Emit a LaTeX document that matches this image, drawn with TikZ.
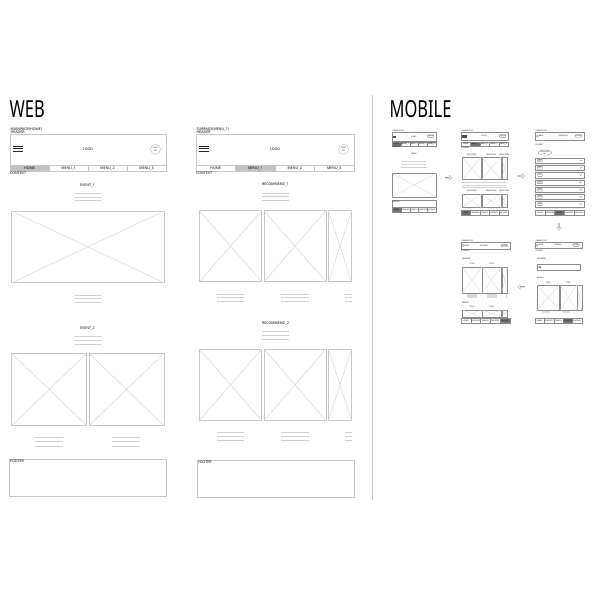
\documentclass[tikz,border=0pt]{standalone}
\usepackage{fontspec}
\setmainfont{Noto Sans}
\usetikzlibrary{shapes.arrows}
\definecolor{framegray}{gray}{0.78}
\definecolor{crossgray}{gray}{0.83}
\definecolor{bargray}{gray}{0.82}
\definecolor{selgray}{gray}{0.76}
\definecolor{mselgray}{gray}{0.45}
\tikzset{
  frame/.style={draw=framegray, line width=0.7pt},
  mframe/.style={draw=framegray!70!black, line width=0.35pt},
  imgframe/.style={draw=framegray, line width=0.8pt},
  imgcross/.style={draw=crossgray, line width=0.45pt},
  bar/.style={draw=bargray, line width=0.9pt},
  mbar/.style={draw=bargray, line width=0.5pt},
  burger/.style={draw=black!85, line width=0.8pt},
  title/.style={inner sep=0, anchor=west, font=\fontsize{23.5}{24}\selectfont},
  wlbl/.style={inner sep=0, font=\fontsize{3.6}{4}\selectfont},
  wtiny/.style={inner sep=0, font=\fontsize{2}{2.2}\selectfont},
  mlbl/.style={inner sep=0, font=\fontsize{1.8}{2}\selectfont},
  flowarrow/.style={single arrow, draw=gray!70, line width=0.35pt, fill=white,
    minimum height=7pt, minimum width=5pt, single arrow head extend=1pt, inner sep=0pt},
}
% narrow headline lettering
\newcommand\narrow[1]{\scalebox{0.7}[1]{#1}}
% image placeholder: rectangle with both diagonals
\newcommand\wfimg[4]{%
  \draw[imgframe] (#1,#2) rectangle (#3,#4);
  \draw[imgcross] (#1,#2) -- (#3,#4) (#1,#4) -- (#3,#2);}
\newcommand\wfmimg[4]{%
  \draw[mframe] (#1,#2) rectangle (#3,#4);
  \draw[imgcross, line width=0.3pt] (#1,#2) -- (#3,#4) (#1,#4) -- (#3,#2);}
% placeholder text lines: x1, x2, first y, spacing
\newcommand\wfbars[4]{%
  \foreach \k in {0,1,2}{\draw[bar] (#1,{#3+\k*#4}) -- (#2,{#3+\k*#4});}}
\newcommand\wfmbars[4]{%
  \foreach \k in {0,1,2}{\draw[mbar] (#1,{#3+\k*#4}) -- (#2,{#3+\k*#4});}}
% desktop header with menu bar: left x, right x, page label, selected cell
\newcommand\webheader[4]{%
  \node[wlbl,anchor=west] at (#1+0.5,129.3) {#3};
  \node[wlbl,anchor=west] at (#1+0.5,132.6) {HEADER};
  \draw[frame] (#1,134) rectangle (#2,171.7);
  \foreach \yy in {146,148.6,151.2}{\draw[burger] (#1+3,\yy) -- (#1+13,\yy);}
  \node[wlbl] at ({(#1+#2)/2},149.3) {LOGO};
  \draw[frame, line width=0.5pt] (#2-10.5,149.3) circle (5);
  \node[wtiny,align=center] at (#2-10.5,149.3) {LOG\\IN};
  \foreach \i/\t in {1/HOME,2/MENU\_1,3/MENU\_2,4/MENU\_3}{
    \pgfmathsetmacro\xa{#1+(\i-1)*(#2-#1)/4}
    \pgfmathsetmacro\xb{#1+\i*(#2-#1)/4}
    \ifnum\i=#4\relax
      \draw[frame,fill=selgray] (\xa,165.7) rectangle (\xb,171.7);
    \else
      \draw[frame] (\xa,165.7) rectangle (\xb,171.7);
    \fi
    \node[wlbl] at ({(\xa+\xb)/2},168.7) {\t};
  }
  \node[wlbl,anchor=west] at (#1,173.6) {CONTEXT};
}
% phone bottom navigation: x1, x2, top, bottom, selected cell
\newcommand\mnav[5]{%
  \foreach \i/\t in {1/HOME,2/CATEGORY,3/SEARCH,4/FAVORITE,5/MY PAGE}{
    \pgfmathsetmacro\xa{#1+(\i-1)*(#2-#1)/5}
    \pgfmathsetmacro\xb{#1+\i*(#2-#1)/5}
    \ifnum\i=#5\relax
      \draw[mframe,fill=mselgray] (\xa,#3) rectangle (\xb,#4);
    \else
      \draw[mframe] (\xa,#3) rectangle (\xb,#4);
    \fi
    \node[mlbl] at ({(\xa+\xb)/2},{(#3+#4)/2}) {\t};
  }}
% phone tab menu: x1, x2, top, bottom, selected cell
\newcommand\mmenu[5]{%
  \foreach \i/\t in {1/HOME,2/MENU\_1,3/MENU\_2,4/MENU\_3,5/MENU\_4}{
    \pgfmathsetmacro\xa{#1+(\i-1)*(#2-#1)/5}
    \pgfmathsetmacro\xb{#1+\i*(#2-#1)/5}
    \ifnum\i=#5\relax
      \draw[mframe,fill=mselgray] (\xa,#3) rectangle (\xb,#4);
    \else
      \draw[mframe] (\xa,#3) rectangle (\xb,#4);
    \fi
    \node[mlbl] at ({(\xa+\xb)/2},{(#3+#4)/2}) {\t};
  }}
% phone header frame: x1, x2, top, bottom (with login pill at the right)
\newcommand\mheader[4]{%
  \node[mlbl,anchor=west] at (#1+0.5,#3-1) {HEADER\_TOP};
  \draw[mframe] (#1,#3) rectangle (#2,#4);
  \draw[mframe, rounded corners=1pt] (#2-9,{(#3+#4)/2-1.3}) rectangle (#2-2.3,{(#3+#4)/2+1.3});
  \node[mlbl] at (#2-5.65,{(#3+#4)/2}) {LOGIN};
}
\newcommand\mback[2]{%
  \draw[mframe] (#1+1.2,#2) circle (1.1);
  \node[mlbl,anchor=west] at (#1+2.6,#2) {BACK};}

\begin{document}
\begin{tikzpicture}[x=1pt,y=-1pt]
\useasboundingbox[fill=white] (0,0) rectangle (600,600);

% ---------------- desktop ----------------
\node[title] (web) at (9.5,108.8) {\narrow{WEB}};
\draw[draw=gray!45, line width=0.5pt] (372,95) -- (372,500);

% main page
\webheader{10}{166}{MAINPAGE(HOME)}{1}
\node[wlbl] (ev1) at (87.5,185) {EVENT\_1};
\wfbars{73.7}{101.7}{193.8}{3.4}
\wfimg{11.7}{211}{164}{282.7}
\wfbars{73.7}{101.7}{295}{3.7}
\node[wlbl] (ev2) at (87.5,328.3) {EVENT\_2};
\wfbars{73.7}{101.7}{336}{4.1}
\wfimg{11.7}{353.3}{86.7}{425.7}
\wfimg{89}{353.3}{164}{425.7}
\wfbars{35}{63}{437.7}{4.2}
\wfbars{112}{140}{437.7}{4.2}
\draw[frame] (9.5,459) rectangle (166,496.7);
\node[wlbl,anchor=north west] (f1) at (10,459.8) {FOOTER};

% sub page
\webheader{196}{354}{SUBPAGE(MENU\_1)}{2}
\node[wlbl] (rc1) at (275.5,184.3) {RECOMMEND\_1};
\wfbars{261.7}{289.3}{193.3}{3.4}
\wfimg{199.3}{210.7}{261.7}{281.7}
\wfimg{264}{210.7}{326}{281.7}
\wfimg{328.3}{210.7}{351.7}{281.7}
\wfbars{216.7}{244.3}{294.3}{3.4}
\wfbars{280.7}{308.7}{294.3}{3.4}
\wfbars{345}{351.7}{294.3}{3.4}
\node[wlbl] (rc2) at (275.5,323.3) {RECOMMEND\_2};
\wfbars{261.7}{289.3}{331.7}{4}
\wfimg{199.3}{349}{261.7}{420.7}
\wfimg{264}{349}{326}{420.7}
\wfimg{328.3}{349}{351.7}{420.7}
\wfbars{216.7}{244.3}{432.7}{4}
\wfbars{280.7}{308.7}{432.7}{4}
\wfbars{345}{351.7}{432.7}{4}
\draw[frame] (197.3,460) rectangle (354,497.7);
\node[wlbl,anchor=north west] (f2) at (197.8,460.8) {FOOTER};

% ---------------- mobile ----------------
\node[title] (mob) at (389.5,108.8) {\narrow{MOBILE}};

% screen 1: home
\mheader{392}{436.3}{131.7}{141}
\fill[black!70] (393.3,135.5) rectangle (396.3,138.4);
\node[mlbl] at (413.7,136.4) {LOGO};
\mmenu{392}{436.3}{142.5}{145.7}{1}
\node[mlbl,anchor=west] at (392.3,147.2) {CONTEXT};
\node[mlbl] at (414,154.3) {EVENT};
\wfmbars{401.3}{426.3}{161}{3.2}
\wfmimg{392}{173.3}{436.3}{196.7}
\draw[mframe] (392,200.5) rectangle (436.3,212.5);
\node[mlbl,anchor=north west] at (392.4,201) {FOOTER};
\mnav{392}{436.3}{207.3}{212.5}{1}

\node[flowarrow] (a1) at (448.3,177.7) {};

% screen 2: menu page
\mheader{461}{508.3}{131.7}{140.5}
\fill[black!70] (462.3,135.2) rectangle (466.7,138.2);
\node[mlbl] at (484,136.1) {LOGO};
\mmenu{461}{508.3}{142.3}{146}{2}
\node[mlbl,anchor=west] at (461.3,147.6) {CONTEXT};
\foreach \xx in {471.6,491.2,504.2}{\node[mlbl] at (\xx,155) {SELECTION};}
\wfmimg{462.3}{157.3}{481}{179.3}
\wfmimg{481.7}{157.3}{500.7}{179.3}
\wfmimg{501.7}{157.3}{506.7}{179.3}
\wfmbars{462.3}{506.7}{182.3}{2.5}
\foreach \xx in {471.6,491.2,504.2}{\node[mlbl] at (\xx,191) {SELECTION};}
\wfmimg{462.3}{194}{481}{207.5}
\wfmimg{481.7}{194}{500.7}{207.5}
\wfmimg{501.7}{194}{506.7}{207.5}
\mnav{461}{508.3}{209.7}{215.2}{1}

\node[flowarrow] (a2) at (521,176) {};

% screen 3: category list
\mheader{535}{584}{131.7}{140.3}
\mback{536.2}{136}
\node[mlbl] at (563.3,136) {CATEGORY};
\node[mlbl,anchor=west] at (535.3,144.4) {CONTEXT};
\draw[mframe] (545,152.5) ellipse (6.7 and 2.6);
\node[mlbl,align=center] at (545,152.5) {CATEGORY\\ALL};
\foreach \k in {0,...,6}{
  \pgfmathsetmacro\ry{158+\k*7.25}
  \fill[gray!12] (535,\ry+5.3) rectangle (584,\ry+7.25);
  \draw[mframe] (535,\ry) rectangle (584,\ry+5.3);
  \draw[mframe, rounded corners=0.8pt] (537,\ry+1.4) rectangle (542.5,\ry+3.9);
  \node[mlbl] at (539.75,\ry+2.65) {LIST};
  \draw[draw=black!60, line width=0.3pt] (579.6,\ry+2.1) -- (580.6,\ry+3.1) -- (581.6,\ry+2.1);
}
\mnav{535}{584}{209.7}{215.5}{3}

\node[flowarrow, shape border rotate=270] (a3) at (559,226.5) {};

% screen 4: my page
\mheader{461}{510}{242}{249}
\mback{461.8}{245.5}
\node[mlbl] at (484,245.5) {MY PAGE};
\node[mlbl,anchor=west] at (461.3,251.2) {CONTEXT};
\node[mlbl,anchor=west] at (462,259.3) {FAVORITE};
\foreach \xx in {472,491.5}{\node[mlbl] at (\xx,264.2) {TITLE};}
\wfmimg{462.3}{267.3}{481.7}{293.3}
\wfmimg{482.3}{267.3}{500.7}{293.3}
\wfmimg{501.7}{267.3}{507.3}{293.3}
\fill[gray!28] (466.7,294.4) rectangle (476.5,297.6);
\fill[gray!28] (486.7,294.4) rectangle (496.5,297.6);
\fill[gray!28] (505.5,294.4) rectangle (507.3,297.6);
\node[mlbl,anchor=west] at (462,302.7) {RECENT};
\foreach \xx in {472,491.5}{\node[mlbl] at (\xx,307.3) {TITLE};}
\wfmimg{462.3}{309.8}{481.7}{317.3}
\wfmimg{482.3}{309.8}{500.7}{317.3}
\wfmimg{501.7}{309.8}{507.3}{317.3}
\mnav{461}{510}{317.7}{323.3}{5}

\node[flowarrow, shape border rotate=180] (a4) at (521.5,286.7) {};

% screen 5: search
\mheader{535}{581.7}{241.7}{248.5}
\mback{536}{245.3}
\node[mlbl] at (558.3,245.3) {SEARCH};
\node[mlbl,anchor=west] at (535.3,251.2) {CONTEXT};
\node[mlbl,anchor=west] at (537,259) {KEYWORD};
\draw[mframe] (537.3,264.3) rectangle (580,270);
\draw[draw=black!70, line width=0.3pt] (539.6,266.8) circle (0.9) (540.2,267.4) -- (541,268.2);
\node[mlbl,anchor=west] at (537,277.7) {RECENT};
\foreach \xx in {548.3,568.3}{\node[mlbl] at (\xx,282.7) {TITLE};}
\wfmimg{537.3}{285}{559.3}{310}
\wfmimg{560}{285}{576.7}{310}
\wfmimg{577.3}{285}{581.7}{310}
\fill[gray!28] (541.7,311) rectangle (549.5,313);
\fill[gray!28] (562,311) rectangle (570,313);
\mnav{535}{581.7}{317.7}{323.3}{4}
\end{tikzpicture}
\end{document}
